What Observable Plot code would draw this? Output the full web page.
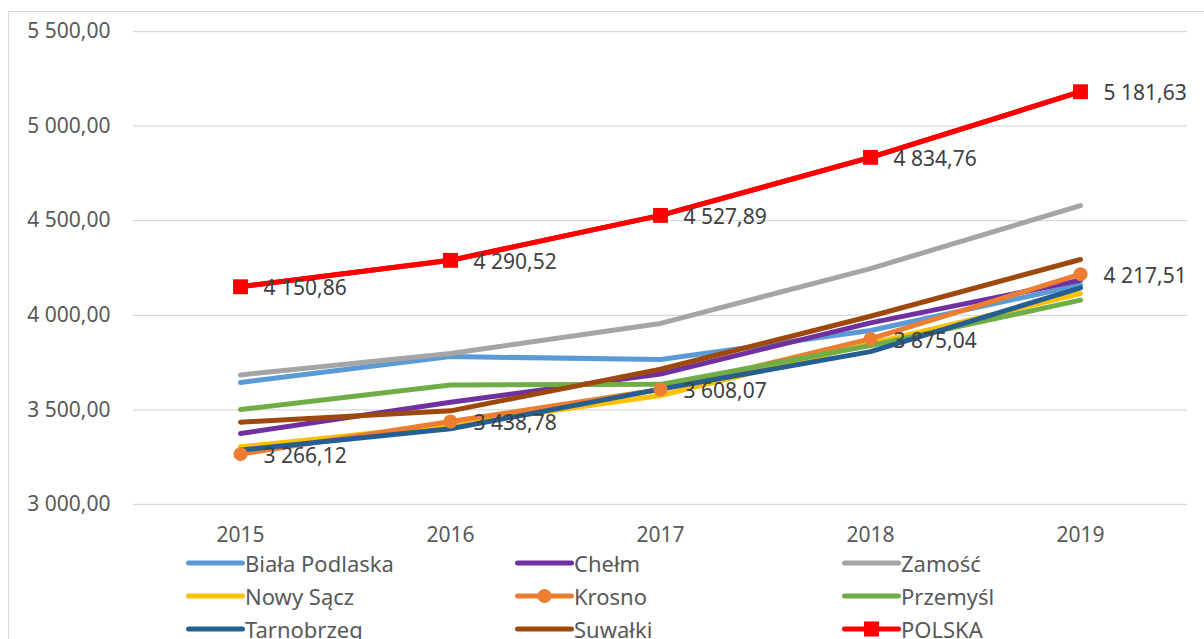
<!DOCTYPE html>
<html>
<head>
<meta charset="utf-8">
<script src="https://cdn.jsdelivr.net/npm/d3@7"></script>
<script src="https://cdn.jsdelivr.net/npm/@observablehq/plot@0.6"></script>
<style>
  html, body { margin: 0; padding: 0; background: #fff; overflow: hidden; width: 1204px; height: 639px; }
  #frame { position: absolute; left: 8px; top: 11px; width: 1300px; height: 700px; border: 1px solid #d9d9d9; box-sizing: border-box; }
  #chart { position: absolute; left: 0; top: 0; }
  #legend { position: absolute; left: 0; top: 546px; width: 1204px; font-family: "Noto Sans", sans-serif; font-size: 22px; color: #595959; }
  .item { position: absolute; height: 33px; display: flex; align-items: center; white-space: nowrap; }
</style>
</head>
<body>
<div id="frame"></div>
<div id="chart"></div>
<div id="legend"></div>
<script>
const years = ["2015", "2016", "2017", "2018", "2019"];
const seriesNames = ["Biała Podlaska", "Chełm", "Zamość", "Nowy Sącz", "Krosno", "Przemyśl", "Tarnobrzeg", "Suwałki", "POLSKA"];
const bialaPodlaska = [3645, 3782, 3766, 3920, 4160];
const chelm = [3375, 3540, 3690, 3960, 4185];
const zamosc = [3685, 3798, 3957, 4247, 4580];
const nowySacz = [3305, 3420, 3576, 3850, 4115];
const krosno = [3266.12, 3438.78, 3608.07, 3875.04, 4217.51];
const przemysl = [3502, 3632, 3635, 3840, 4080];
const tarnobrzeg = [3288, 3400, 3610, 3808, 4145];
const suwalki = [3435, 3495, 3715, 3995, 4295];
const polska = [4150.86, 4290.52, 4527.89, 4834.76, 5181.63];
const seriesColors = ["#5B9BD5", "#7030A0", "#A5A5A5", "#FFC000", "#ED7D31", "#70AD47", "#255E91", "#9E480E", "#FF0000"];
const yTicks = [3000, 3500, 4000, 4500, 5000, 5500];

const seriesValues = [bialaPodlaska, chelm, zamosc, nowySacz, krosno, przemysl, tarnobrzeg, suwalki, polska];
const data = [];
seriesNames.forEach((name, i) => {
  years.forEach((yr, j) => data.push({series: name, year: yr, value: seriesValues[i][j], order: i}));
});
const krosnoData = data.filter(d => d.series === "Krosno");
const polskaData = data.filter(d => d.series === "POLSKA");
const labelData = krosnoData.concat(polskaData);

const locale = d3.formatLocale({decimal: ",", thousands: "\u00a0", grouping: [3], currency: ["", ""]});
const fmt = locale.format(",.2f");

const chart = Plot.plot({
  width: 1204,
  height: 548,
  marginLeft: 133,
  marginRight: 17,
  marginTop: 31,
  marginBottom: 44,
  style: {fontFamily: "Noto Sans, sans-serif", fontSize: "21px", color: "#595959", background: "transparent", overflow: "visible"},
  x: {type: "point", domain: years, padding: 0.5, label: null},
  y: {domain: [3000, 5500], label: null},
  color: {domain: seriesNames, range: seriesColors},
  marks: [
    Plot.ruleY(yTicks, {stroke: "#d9d9d9", strokeWidth: 1.3}),
    Plot.axisY(yTicks, {tickSize: 0, tickPadding: 23, tickFormat: fmt, label: null, fontSize: 21}),
    Plot.axisX({tickSize: 0, tickPadding: 23, label: null, fontSize: 21}),
    Plot.line(data, {x: "year", y: "value", z: "series", stroke: "series", strokeWidth: 5, strokeLinecap: "round", strokeLinejoin: "round"}),
    Plot.dot(krosnoData, {x: "year", y: "value", r: 7, fill: "#ED7D31", stroke: "none"}),
    Plot.line(polskaData, {x: "year", y: "value", stroke: "#FF0000", strokeWidth: 5, strokeLinecap: "round", strokeLinejoin: "round"}),
    Plot.dot(polskaData, {x: "year", y: "value", symbol: "square", r: 8.4, fill: "#FF0000", stroke: "none"}),
    Plot.text(labelData, {x: "year", y: "value", text: d => fmt(d.value), dx: 23, dy: 2, textAnchor: "start", fill: "#404040", fontSize: 21})
  ]
});
document.getElementById("chart").appendChild(chart);

// Legend
const legend = document.getElementById("legend");
const colX = [186, 515, 842];
seriesNames.forEach((name, i) => {
  const col = i % 3, row = Math.floor(i / 3);
  const item = document.createElement("div");
  item.className = "item";
  item.style.left = colX[col] + "px";
  item.style.top = (row * 33) + "px";
  const ns = "http://www.w3.org/2000/svg";
  const svg = document.createElementNS(ns, "svg");
  svg.setAttribute("width", 59);
  svg.setAttribute("height", 20);
  const line = document.createElementNS(ns, "line");
  line.setAttribute("x1", 2.5); line.setAttribute("x2", 56.5);
  line.setAttribute("y1", 10); line.setAttribute("y2", 10);
  line.setAttribute("stroke", seriesColors[i]);
  line.setAttribute("stroke-width", 5);
  line.setAttribute("stroke-linecap", "round");
  svg.appendChild(line);
  if (name === "Krosno") {
    const c = document.createElementNS(ns, "circle");
    c.setAttribute("cx", 29.5); c.setAttribute("cy", 10); c.setAttribute("r", 7);
    c.setAttribute("fill", seriesColors[i]);
    svg.appendChild(c);
  }
  if (name === "POLSKA") {
    const r = document.createElementNS(ns, "rect");
    r.setAttribute("x", 22); r.setAttribute("y", 2.5); r.setAttribute("width", 15); r.setAttribute("height", 15);
    r.setAttribute("fill", seriesColors[i]);
    svg.appendChild(r);
  }
  item.appendChild(svg);
  const span = document.createElement("span");
  span.textContent = name;
  item.appendChild(span);
  legend.appendChild(item);
});
</script>
</body>
</html>
